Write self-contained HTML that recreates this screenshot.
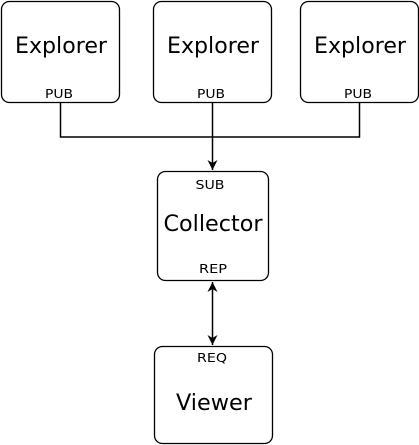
<!DOCTYPE html>
<html><head><meta charset="utf-8"><style>html,body{margin:0;padding:0;background:#fff}svg{display:block}text{font-family:"DejaVu Sans","Liberation Sans",sans-serif;fill:#000}</style></head>
<body>
<svg width="419" height="445" viewBox="0 0 419 445" xmlns="http://www.w3.org/2000/svg">
<defs>
<marker id="a" viewBox="0 0 10 10" refX="10" refY="5" markerWidth="11" markerHeight="10" orient="auto-start-reverse" markerUnits="userSpaceOnUse"><path d="M0,0 L10,5 L0,10 L3,5 z" fill="#000"/></marker>
</defs>
<g fill="#fff" stroke="#000" stroke-width="1.3">
<rect x="1.5" y="1.5" width="118" height="101" rx="8"/>
<rect x="153.5" y="1.5" width="118" height="101" rx="8"/>
<rect x="300.5" y="1.5" width="118" height="101" rx="8"/>
<rect x="157.5" y="171.5" width="111" height="109" rx="8"/>
<rect x="154.5" y="346.5" width="118" height="97" rx="8"/>
</g>
<g fill="none" stroke="#000" stroke-width="1.5">
<path d="M60.5 103 V137 H359.5 V103"/>
<path d="M212.5 103 V170" marker-end="url(#a)"/>
<path d="M212.5 282 V345" marker-start="url(#a)" marker-end="url(#a)"/>
</g>
<g font-size="22" text-anchor="middle">
<text x="61" y="53" textLength="92" lengthAdjust="spacingAndGlyphs">Explorer</text>
<text x="213" y="53" textLength="92" lengthAdjust="spacingAndGlyphs">Explorer</text>
<text x="360" y="53" textLength="92" lengthAdjust="spacingAndGlyphs">Explorer</text>
<text x="213" y="231" textLength="99" lengthAdjust="spacingAndGlyphs">Collector</text>
<text x="214" y="410" textLength="76" lengthAdjust="spacingAndGlyphs">Viewer</text>
</g>
<g font-size="12" text-anchor="middle">
<text x="59" y="98" textLength="28" lengthAdjust="spacingAndGlyphs">PUB</text>
<text x="211" y="98" textLength="28" lengthAdjust="spacingAndGlyphs">PUB</text>
<text x="358" y="98" textLength="28" lengthAdjust="spacingAndGlyphs">PUB</text>
<text x="210" y="189" textLength="29" lengthAdjust="spacingAndGlyphs">SUB</text>
<text x="213" y="273" textLength="28" lengthAdjust="spacingAndGlyphs">REP</text>
<text x="212" y="362" textLength="30" lengthAdjust="spacingAndGlyphs">REQ</text>
</g>
</svg>
</body></html>
